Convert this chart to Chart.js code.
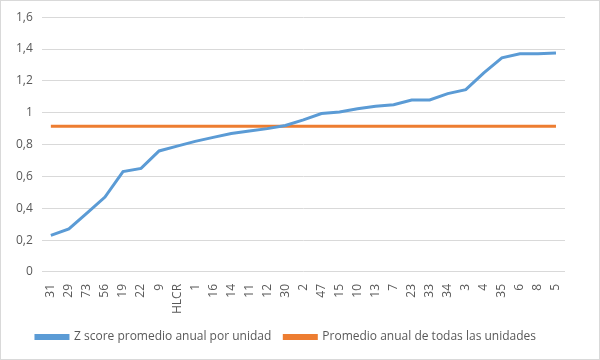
<!DOCTYPE html>
<html>
<head>
<meta charset="utf-8">
<script src="https://cdn.jsdelivr.net/npm/chart.js@4"></script>
<style>
  html, body { margin: 0; padding: 0; background: #fff; }
  #wrap { position: absolute; left: 0; top: 0; width: 598px; height: 358px; border: 1px solid #d9d9d9; }
</style>
</head>
<body>
<div id="wrap"><canvas id="zChart" width="598" height="358"></canvas></div>
<script>
const unidades = ["31", "29", "73", "56", "19", "22", "9", "HLCR", "1", "16", "14", "11", "12", "30", "2", "47", "15", "10", "13", "7", "23", "33", "34", "3", "4", "35", "6", "8", "5"];
const zScore = [0.23, 0.27, 0.37, 0.47, 0.63, 0.65, 0.76, 0.79, 0.82, 0.845, 0.87, 0.885, 0.90, 0.92, 0.955, 0.995, 1.005, 1.025, 1.04, 1.05, 1.08, 1.08, 1.12, 1.145, 1.25, 1.345, 1.37, 1.37, 1.375];
const promedioTodas = unidades.map(() => 0.915);

Chart.defaults.font.family = "'Open Sans', 'Liberation Sans', sans-serif";
Chart.defaults.font.size = 12;
Chart.defaults.color = "#595959";

new Chart(document.getElementById("zChart"), {
  type: "line",
  data: {
    labels: unidades,
    datasets: [{
      label: "Z score promedio anual por unidad",
      data: zScore,
      borderColor: "#5b9bd5",
      backgroundColor: "#5b9bd5",
      borderWidth: 3,
      pointRadius: 0,
      tension: 0,
      fill: false
    }, {
      label: "Promedio anual de todas las unidades",
      data: promedioTodas,
      borderColor: "#ed7d31",
      backgroundColor: "#ed7d31",
      borderWidth: 3,
      pointRadius: 0,
      fill: false
    }]
  },
  options: {
    responsive: false,
    animation: false,
    layout: { padding: { left: 6, right: 34, top: 10, bottom: 6 } },
    plugins: {
      legend: {
        position: "bottom",
        labels: {
          boxWidth: 32,
          boxHeight: 3,
          padding: 13,
          font: { size: 12 }
        }
      },
      tooltip: { enabled: false }
    },
    scales: {
      y: {
        min: 0,
        max: 1.6,
        ticks: {
          stepSize: 0.2,
          padding: 9,
          callback: function(value) {
            return value === 0 || value === 1 ? String(value) : value.toFixed(1).replace(".", ",");
          }
        },
        grid: { color: "#d9d9d9", drawTicks: false },
        border: { display: false }
      },
      x: {
        offset: true,
        ticks: {
          maxRotation: 90,
          minRotation: 90,
          autoSkip: false,
          padding: 4
        },
        grid: { display: false },
        border: { display: false }
      }
    }
  }
});
</script>
</body>
</html>
